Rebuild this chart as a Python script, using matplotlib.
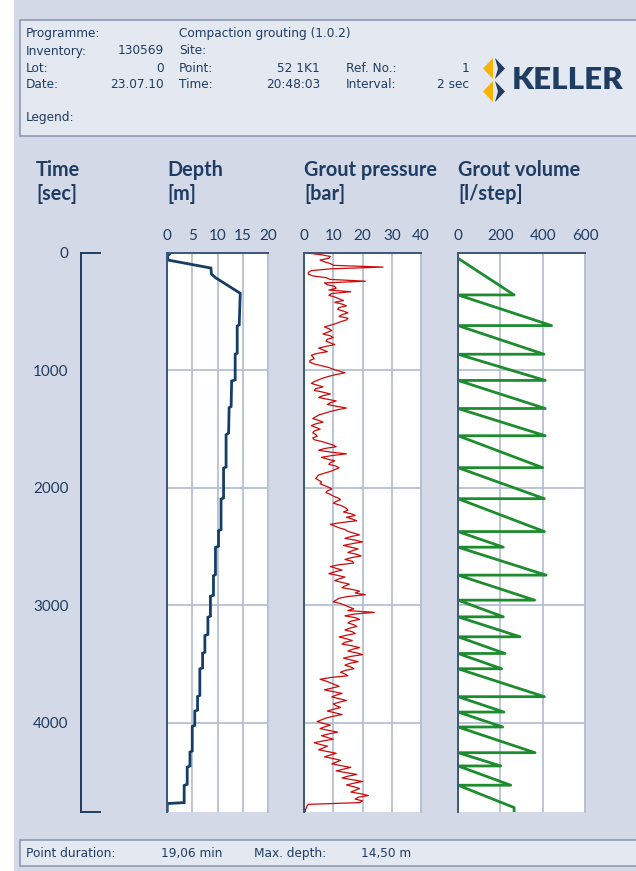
import numpy as np
import matplotlib
matplotlib.use("Agg")
import matplotlib.pyplot as plt
from matplotlib.patches import Rectangle, Polygon

# figure size in pixels (dpi 100)
W, H = 636, 871

NAVY = "#1f3d63"
GRID = "#b6c0d4"
BG = "#d3d9e7"
BOX = "#e4e8f1"
BOX_EDGE = "#8e9ab4"

T_MAX = 4760  # sec, bottom of the plot

# depth [m] against time [sec]
DEPTH_TIME = [0, 12, 25, 60, 128, 180, 210, 343, 612, 622, 853, 863, 1080, 1090,
              1307, 1317, 1533, 1548, 1822, 1832, 2086, 2096, 2355, 2365, 2497, 2507,
              2738, 2748, 2914, 2924, 3092, 3102, 3248, 3258, 3399, 3409, 3532, 3542,
              3767, 3777, 3892, 3902, 4022, 4032, 4240, 4250, 4368, 4378, 4524, 4534,
              4680, 4688, 4760]
DEPTH_M = [0.0, 0.4, 0.1, 0.2, 8.7, 8.8, 9.6, 14.5, 14.3, 13.9, 13.9, 13.5, 13.5, 12.8,
           12.7, 12.3, 12.2, 11.7, 11.7, 11.2, 11.2, 10.7, 10.7, 10.2, 10.2, 9.6,
           9.6, 9.2, 9.2, 8.6, 8.6, 8.1, 8.1, 7.5, 7.5, 7.05, 7.05, 6.5,
           6.5, 6.05, 6.05, 5.5, 5.5, 5.0, 5.0, 4.55, 4.55, 4.0, 4.0, 3.4,
           3.4, 0.05, 0.05]

# grout pressure [bar], one reading every 15 sec
P_STEP = 15
PRESSURE = [1.0, 6.0, 9.0, 8.5, 5.5, 7.0, 9.0, 10.0, 27.0, 9.0,
            2.5, 1.5, 1.5, 3.0, 7.5, 9.0, 21.0, 7.0, 8.0, 10.5,
            11.0, 8.5, 16.0, 9.5, 8.5, 10.5, 12.0, 13.5, 10.5, 13.0,
            14.5, 12.0, 11.5, 13.5, 15.0, 13.0, 12.0, 15.0, 14.5, 12.5,
            11.0, 9.0, 7.0, 8.5, 9.5, 8.0, 6.5, 9.0, 10.0, 8.0,
            7.5, 9.0, 10.5, 7.5, 5.0, 6.5, 8.0, 4.5, 2.5, 3.0,
            3.5, 2.0, 2.0, 3.5, 6.0, 8.5, 10.0, 12.0, 14.0, 11.0,
            8.5, 6.5, 5.0, 3.5, 2.5, 4.5, 6.5, 4.0, 3.5, 6.5,
            9.0, 6.5, 5.0, 8.0, 11.0, 9.0, 8.0, 11.0, 14.5, 11.5,
            9.0, 7.0, 5.0, 4.0, 3.0, 5.0, 6.5, 4.0, 2.5, 4.0,
            5.5, 3.5, 3.0, 4.0, 4.5, 3.0, 3.5, 6.0, 8.0, 10.0,
            11.0, 7.0, 5.0, 9.0, 14.5, 9.5, 6.0, 8.0, 10.5, 9.0,
            8.5, 11.0, 12.0, 10.5, 9.0, 7.0, 5.0, 4.5, 4.0, 5.0,
            6.0, 5.5, 7.0, 8.5, 9.5, 8.0, 7.5, 9.0, 10.0, 11.5,
            12.5, 11.0, 10.0, 12.0, 13.5, 14.5, 15.0, 13.5, 16.0, 17.5,
            14.5, 16.5, 18.0, 13.0, 9.0, 10.5, 12.0, 14.0, 15.0, 17.0,
            19.0, 16.0, 14.0, 17.5, 20.0, 16.5, 13.5, 16.0, 18.5, 16.5,
            15.0, 18.0, 19.5, 16.0, 14.0, 16.5, 17.0, 12.0, 9.0, 11.0,
            13.0, 10.5, 8.5, 11.5, 14.0, 12.0, 10.5, 13.0, 15.5, 14.0,
            13.0, 16.5, 19.0, 17.5, 21.0, 15.0, 12.0, 11.0, 10.0, 12.5,
            14.0, 15.5, 17.0, 15.0, 24.0, 17.0, 14.0, 17.5, 19.0, 16.0,
            15.0, 17.0, 18.0, 15.5, 14.0, 16.5, 17.5, 14.5, 12.0, 14.5,
            16.5, 14.0, 13.0, 16.5, 19.0, 16.5, 15.0, 18.0, 20.0, 16.0,
            13.5, 16.0, 18.5, 15.5, 14.0, 16.0, 17.0, 14.0, 12.5, 14.0,
            15.0, 9.0, 5.5, 7.5, 9.0, 10.5, 12.0, 9.5, 7.0, 10.0,
            13.0, 11.0, 9.5, 12.0, 14.5, 12.0, 10.0, 11.0, 12.5, 10.0,
            8.0, 10.5, 13.0, 10.0, 7.5, 6.0, 4.5, 6.5, 9.0, 7.0,
            5.5, 8.5, 11.5, 8.5, 6.0, 8.0, 10.0, 6.5, 3.5, 5.5,
            8.0, 6.5, 5.0, 8.0, 11.0, 9.0, 7.0, 10.0, 12.5, 11.0,
            9.5, 12.5, 16.0, 13.5, 11.0, 14.5, 18.0, 15.0, 13.0, 16.5,
            20.0, 17.0, 14.5, 17.0, 19.0, 17.5, 16.0, 19.5, 22.0, 18.5,
            17.5, 20.0, 19.0, 1.5, 1.0, 0.8, 0.5]

# grout volume [l/step]: each step ramps from 0 up to its peak, then resets
VOL_START = 45
VOL_PEAK_TIME = [357, 618, 862, 1085, 1324, 1556, 1828, 2092, 2372, 2505, 2743,
                 2956, 3098, 3268, 3410, 3540, 3778, 3909, 4036, 4255, 4368, 4532]
VOL_PEAK = [265, 442, 406, 412, 412, 412, 400, 408, 408, 214, 416,
            362, 214, 293, 222, 206, 408, 217, 211, 364, 202, 249]
VOL_LAST_TIME = 4722
VOL_LAST = 265

TIME_TICKS = [0, 1000, 2000, 3000, 4000]

header_rows = [
    ("Programme:", "", "Compaction grouting (1.0.2)", "", "", ""),
    ("Inventory:", "130569", "Site:", "", "", ""),
    ("Lot:", "0", "Point:", "52 1K1", "Ref. No.:", "1"),
    ("Date:", "23.07.10", "Time:", "20:48:03", "Interval:", "2 sec"),
]

plt.rcParams["font.family"] = ["Lato", "DejaVu Sans"]


def rect(x, y, w, h):
    return [x / W, 1 - (y + h) / H, w / W, h / H]


def fx(x):
    return x / W


def fy(y):
    return 1 - y / H


fig = plt.figure(figsize=(W / 100, H / 100), dpi=100)
fig.patch.set_facecolor("white")
fig.patches.append(Rectangle((fx(14), 0), 1, 1, transform=fig.transFigure,
                             facecolor=BG, edgecolor="none", zorder=-5))

# header box
fig.patches.append(Rectangle((fx(20), fy(136)), 1, (136 - 20) / H, transform=fig.transFigure,
                             facecolor=BOX, edgecolor=BOX_EDGE, lw=1.2, zorder=-4))
hfont = dict(family="DejaVu Sans", fontsize=8.7, color=NAVY, va="center")
for i, row in enumerate(header_rows):
    y = fy(34 + 17 * i)
    fig.text(fx(26), y, row[0], ha="left", **hfont)
    fig.text(fx(164), y, row[1], ha="right", **hfont)
    fig.text(fx(179), y, row[2], ha="left", **hfont)
    fig.text(fx(320), y, row[3], ha="right", **hfont)
    fig.text(fx(346), y, row[4], ha="left", **hfont)
    fig.text(fx(469), y, row[5], ha="right", **hfont)
fig.text(fx(26), fy(118), "Legend:", ha="left", **hfont)

# keller logo
for y0 in (58, 81):
    fig.patches.append(Polygon([(fx(493), fy(y0)), (fx(483), fy(y0 + 10.5)), (fx(493), fy(y0 + 21))],
                               closed=True, transform=fig.transFigure, facecolor="#f4b400",
                               edgecolor="none"))
    fig.patches.append(Polygon([(fx(495), fy(y0)), (fx(505), fy(y0 + 10.5)), (fx(495), fy(y0 + 21)),
                                (fx(498), fy(y0 + 10.5))],
                               closed=True, transform=fig.transFigure, facecolor=NAVY,
                               edgecolor="none"))
fig.text(fx(512), fy(80), "KELLER", ha="left", va="center", fontsize=22.5,
         fontweight="heavy", color=NAVY, family=["Lato", "DejaVu Sans"])

# footer box
fig.patches.append(Rectangle((fx(20), fy(866)), 1, (866 - 840) / H, transform=fig.transFigure,
                             facecolor=BOX, edgecolor=BOX_EDGE, lw=1.2, zorder=-4))
for x, s in [(26, "Point duration:"), (161, "19,06 min"), (254, "Max. depth:"), (361, "14,50 m")]:
    fig.text(fx(x), fy(853), s, ha="left", **hfont)

# column titles
titles = [(36, "Time", "[sec]"), (167, "Depth", "[m]"), (304, "Grout pressure", "[bar]"),
          (458, "Grout volume", "[l/step]")]
for x, t1, t2 in titles:
    fig.text(fx(x), fy(170), t1, ha="left", va="center", fontsize=14.3, fontweight="bold", color=NAVY)
    fig.text(fx(x), fy(194), t2, ha="left", va="center", fontsize=14.3, fontweight="bold", color=NAVY)

# time axis
ax_t = fig.add_axes(rect(81, 253, 19, 559))
ax_t.set_ylim(T_MAX, 0)
ax_t.set_xlim(0, 1)
ax_t.patch.set_alpha(0)
for s in ("top", "right", "bottom"):
    ax_t.spines[s].set_visible(False)
ax_t.spines["left"].set_color(NAVY)
ax_t.spines["left"].set_linewidth(1.4)
ax_t.axhline(0, color=NAVY, lw=1.4, clip_on=False)
ax_t.axhline(T_MAX, color=NAVY, lw=1.4, clip_on=False)
ax_t.set_xticks([])
ax_t.set_yticks(TIME_TICKS)
ax_t.tick_params(axis="y", length=0, pad=9, labelsize=11, labelcolor=NAVY)


def panel(x, w, xmax, ticks):
    ax = fig.add_axes(rect(x, 253, w, 559))
    ax.set_facecolor("white")
    ax.set_xlim(0, xmax)
    ax.set_ylim(T_MAX, 0)
    ax.set_xticks(ticks)
    ax.set_yticks(TIME_TICKS[1:])
    ax.set_yticklabels([])
    ax.xaxis.tick_top()
    ax.tick_params(length=0)
    ax.tick_params(axis="x", pad=7, labelsize=11, labelcolor=NAVY)
    ax.grid(True, color=GRID, lw=1.3)
    ax.set_axisbelow(True)
    ax.spines["bottom"].set_visible(False)
    ax.spines["right"].set_color(GRID)
    ax.spines["right"].set_linewidth(1.3)
    for s in ("left", "top"):
        ax.spines[s].set_color("#3a5679")
        ax.spines[s].set_linewidth(1.4)
    return ax


ax_d = panel(167, 101, 20, [0, 5, 10, 15, 20])
ax_d.plot(DEPTH_M, DEPTH_TIME, color="#163d66", lw=2.0, solid_joinstyle="miter")

ax_p = panel(304, 117, 40, [0, 10, 20, 30, 40])
p_time = np.arange(len(PRESSURE)) * P_STEP
ax_p.plot(PRESSURE + [0.5], list(p_time) + [T_MAX], color="#cc0a0a", lw=0.9)

ax_v = panel(458, 127, 600, [0, 200, 400, 600])
vx, vy = [0], [VOL_START]
for t, v in zip(VOL_PEAK_TIME, VOL_PEAK):
    vx += [v, 0]
    vy += [t, t]
vx += [VOL_LAST, VOL_LAST]
vy += [VOL_LAST_TIME, T_MAX]
ax_v.plot(vx, vy, color="#1d8c2e", lw=2.0)

fig.savefig("out.png", dpi=100)
